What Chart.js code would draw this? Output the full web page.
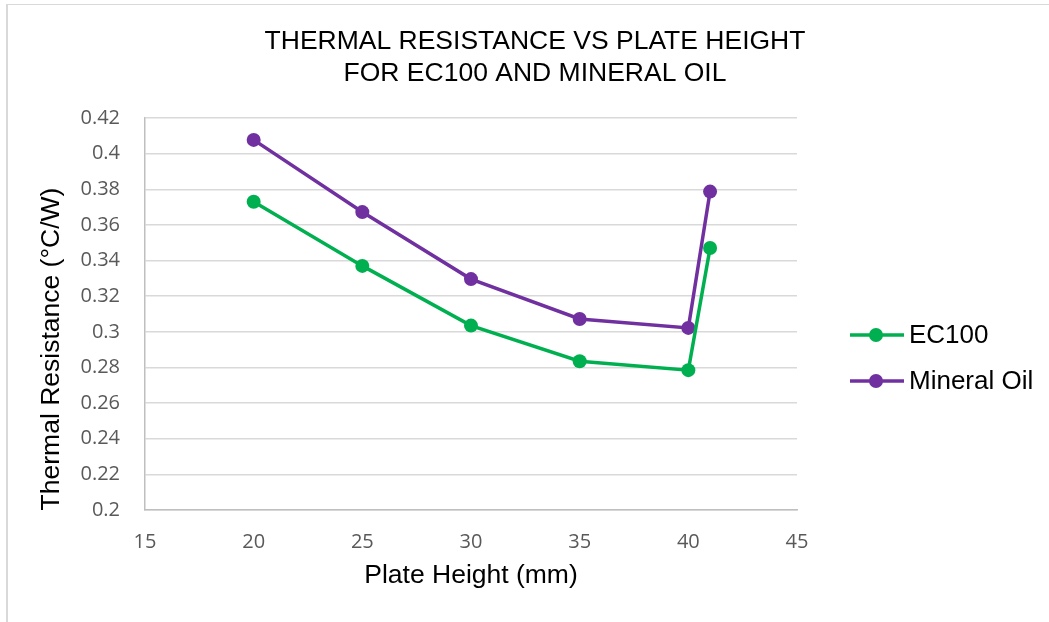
<!DOCTYPE html>
<html>
<head>
<meta charset="utf-8">
<script src="https://cdn.jsdelivr.net/npm/chart.js@4.4.0/dist/chart.umd.min.js"></script>
<style>
  html, body { margin: 0; padding: 0; background: #ffffff; }
  #grafica { display: block; }
</style>
</head>
<body>
<canvas id="grafica" width="1049" height="622"></canvas>
<script>
// datos
const alturas = [20, 25, 30, 35, 40, 41];
const ec100 = [0.373, 0.337, 0.3035, 0.2835, 0.2785, 0.347];
const aceiteMineral = [0.4077, 0.3672, 0.3296, 0.3072, 0.3022, 0.3787];
const nombresSeries = ["EC100", "Mineral Oil"];
const coloresSeries = ["#00b050", "#7030a0"];
const tituloLineas = ["THERMAL RESISTANCE VS PLATE HEIGHT", "FOR EC100 AND MINERAL OIL"];
const tituloEjeX = "Plate Height (mm)";
const tituloEjeY = "Thermal Resistance (\u00b0C/W)";

const puntos = (valores) => alturas.map((h, i) => ({ x: h, y: valores[i] }));

const crearSerie = (nombre, valores, color) => ({
  label: nombre,
  data: puntos(valores),
  showLine: true,
  borderColor: color,
  backgroundColor: color,
  borderWidth: 3.5,
  pointRadius: 7,
  pointHoverRadius: 7,
  pointBorderWidth: 0,
  tension: 0,
});

const fuenteArial = "'Liberation Sans', Arial, sans-serif";

// marco, titulo, titulo del eje Y y leyenda dibujados a mano
const extras = {
  id: "extras",
  beforeDraw(chart) {
    const ctx = chart.ctx;
    ctx.save();
    ctx.fillStyle = "#ffffff";
    ctx.fillRect(0, 0, chart.width, chart.height);
    ctx.fillStyle = "#d9d9d9";
    ctx.fillRect(6, 4, chart.width - 6, 1);
    ctx.fillRect(6, 4, 2, chart.height - 4);
    ctx.restore();
  },
  afterDraw(chart) {
    const ctx = chart.ctx;
    ctx.save();
    ctx.fillStyle = "#000000";
    ctx.textAlign = "center";
    ctx.textBaseline = "alphabetic";
    ctx.font = "26.5px " + fuenteArial;
    ctx.fillText(tituloLineas[0], 535, 49);
    ctx.fillText(tituloLineas[1], 535, 81);

    ctx.save();
    ctx.translate(52, 349);
    ctx.rotate(-Math.PI / 2);
    ctx.textBaseline = "middle";
    ctx.font = "26.5px " + fuenteArial;
    ctx.fillText(tituloEjeY, 0, 0);
    ctx.restore();

    const filas = [335, 381];
    chart.data.datasets.forEach((ds, i) => {
      const y = filas[i];
      ctx.strokeStyle = ds.borderColor;
      ctx.lineWidth = 3.5;
      ctx.beginPath();
      ctx.moveTo(850, y);
      ctx.lineTo(904, y);
      ctx.stroke();
      ctx.fillStyle = ds.borderColor;
      ctx.beginPath();
      ctx.arc(876, y, 7, 0, Math.PI * 2);
      ctx.fill();
      ctx.fillStyle = "#000000";
      ctx.textAlign = "left";
      ctx.textBaseline = "middle";
      ctx.font = "26px " + fuenteArial;
      ctx.fillText(ds.label, 909, y + 1);
    });
    ctx.restore();
  },
};

const fuenteTicks = { family: "'Open Sans', sans-serif", size: 20 };

new Chart("grafica", {
  type: "scatter",
  data: {
    datasets: [
      crearSerie(nombresSeries[0], ec100, coloresSeries[0]),
      crearSerie(nombresSeries[1], aceiteMineral, coloresSeries[1]),
    ],
  },
  options: {
    responsive: false,
    animation: false,
    layout: { padding: { top: 118, right: 252, bottom: 0, left: 0 } },
    plugins: {
      legend: { display: false },
      tooltip: { enabled: false },
      title: { display: false },
    },
    scales: {
      x: {
        type: "linear",
        min: 15,
        max: 45,
        ticks: { stepSize: 5, color: "#595959", font: fuenteTicks, padding: 20, maxRotation: 0 },
        grid: { drawOnChartArea: false, drawTicks: false },
        border: { display: true, color: "#bfbfbf", width: 1.5 },
        title: {
          display: true,
          text: tituloEjeX,
          color: "#000000",
          font: { family: fuenteArial, size: 26.5 },
          padding: { top: 0, bottom: 30 },
        },
        afterFit: (escala) => { escala.height = 112; },
      },
      y: {
        type: "linear",
        min: 0.2,
        max: 0.42,
        ticks: {
          stepSize: 0.02,
          color: "#595959",
          font: fuenteTicks,
          padding: 25,
          callback: (v) => String(+v.toFixed(2)),
        },
        grid: { color: "#d9d9d9", lineWidth: 1.5, drawTicks: false },
        border: { display: true, color: "#bfbfbf", width: 1.5 },
        afterFit: (escala) => { escala.width = 145; },
      },
    },
  },
  plugins: [extras],
});
</script>
</body>
</html>
